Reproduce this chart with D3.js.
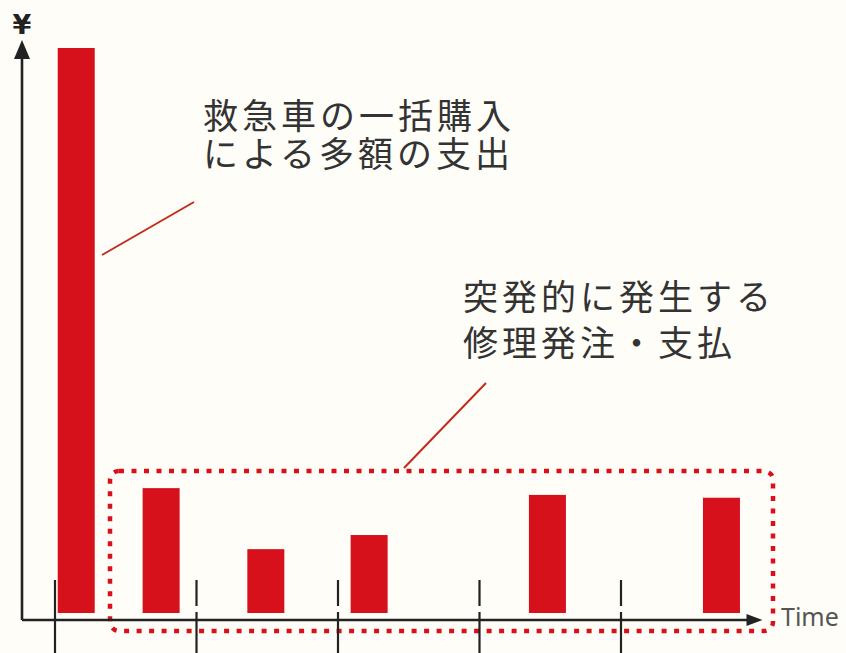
<!DOCTYPE html>
<html>
<head>
<meta charset="utf-8">
<script src="https://cdn.jsdelivr.net/npm/d3@7"></script>
<style>
  html, body { margin: 0; padding: 0; background: #fefdf7; }
  svg { display: block; }
</style>
</head>
<body>
<div class="canvas"></div>
<script>
// data
const times = [0.15, 0.75, 1.49, 2.22, 3.48, 4.71];   // when each payment happens
const amounts = [100, 22.1, 11.3, 13.8, 20.9, 20.4];  // relative size of each payment
const timeTicks = [0, 1, 2, 3, 4];
const note1 = ['救急車の一括購入', 'による多額の支出'];
const note2 = ['突発的に発生する', '修理発注・支払'];

const dims = {width: 846, height: 653};
const red = '#d7111c';
const ink = '#222';

const svg = d3.select('.canvas')
  .append('svg')
  .attr('width', dims.width)
  .attr('height', dims.height);

// scales
const x = d3.scaleLinear().domain([0, 5]).range([55, 762.5]);
const y = d3.scaleLinear().domain([0, 100]).range([613, 48]);
const barW = 37;
const axisY = 620, axisX = 22;

// bars
svg.append('g')
  .selectAll('rect')
  .data(times)
  .join('rect')
    .attr('x', (d) => x(d) - barW / 2)
    .attr('width', barW)
    .attr('y', (d, i) => y(amounts[i]))
    .attr('height', (d, i) => y(0) - y(amounts[i]))
    .attr('fill', red);

// dotted box around the small repairs
svg.append('rect')
  .attr('x', 110).attr('y', 471)
  .attr('width', 663).attr('height', 160)
  .attr('rx', 9)
  .attr('fill', 'none')
  .attr('stroke', red)
  .attr('stroke-width', 4.5)
  .attr('stroke-dasharray', '5 7.5');

// axes
const axes = svg.append('g').attr('stroke', ink).attr('fill', ink);
axes.append('path')
  .attr('d', `M${axisX},${axisY}H${x.range()[1] - 8}`)
  .attr('stroke-width', 2.6).attr('fill', 'none');
axes.append('path')
  .attr('d', `M${axisX},${axisY}V54`)
  .attr('stroke-width', 2.6).attr('fill', 'none');
// arrow heads
axes.append('path')
  .attr('d', `M${x.range()[1]},${axisY} l-16,-6 v12 z`)
  .attr('stroke', 'none');
axes.append('path')
  .attr('d', `M${axisX},40 l-8,19 h16 z`)
  .attr('stroke', 'none');

// time ticks, crossing the axis
svg.append('g')
  .selectAll('path')
  .data(timeTicks)
  .join('path')
    .attr('d', (d, i) => i === 0
      ? `M${x(d)},580V653`
      : `M${x(d)},580V606M${x(d)},612V653`)
    .attr('stroke', ink)
    .attr('stroke-width', 2.2);

// axis labels
svg.append('text')
  .attr('x', axisX).attr('y', 34)
  .attr('text-anchor', 'middle')
  .attr('font-family', 'DejaVu Sans, sans-serif')
  .attr('font-size', 27)
  .attr('font-weight', 'bold')
  .attr('fill', ink)
  .text('¥');

svg.append('text')
  .attr('x', 781).attr('y', 626)
  .attr('font-family', 'Noto Sans, sans-serif')
  .attr('font-size', 25)
  .attr('fill', '#555')
  .text('Time');

// annotations
const noteFont = '"Noto Sans CJK JP", sans-serif';
const drawNote = (lines, x0, y0, lh) => {
  svg.append('g')
    .selectAll('text')
    .data(lines)
    .join('text')
      .attr('x', x0)
      .attr('y', (d, i) => y0 + i * lh)
      .attr('font-family', noteFont)
      .attr('font-size', 35)
      .attr('letter-spacing', 4)
      .attr('fill', '#333')
      .text((d) => d);
};
drawNote(note1, 203, 129, 38);
drawNote(note2, 463, 310, 46);

svg.append('g')
  .attr('stroke', '#c42a1c')
  .attr('stroke-width', 2)
  .selectAll('line')
  .data([[102, 255, 194, 202], [404, 468, 486, 383]])
  .join('line')
    .attr('x1', (d) => d[0]).attr('y1', (d) => d[1])
    .attr('x2', (d) => d[2]).attr('y2', (d) => d[3]);
</script>
</body>
</html>
